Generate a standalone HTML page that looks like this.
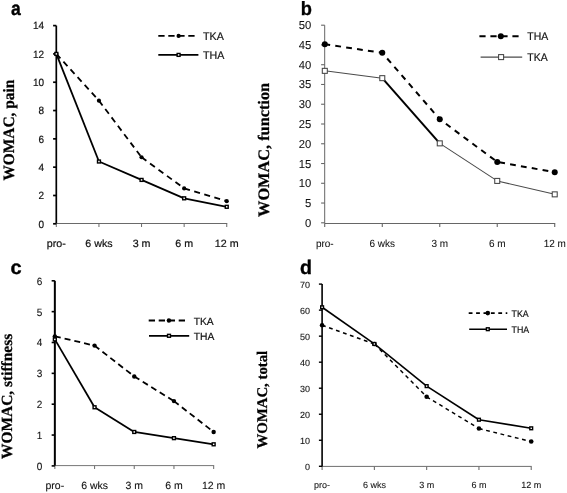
<!DOCTYPE html>
<html><head><meta charset="utf-8"><style>
html,body{margin:0;padding:0;background:#fff;}
body{width:567px;height:493px;overflow:hidden;}
svg{display:block;filter:blur(0.35px);}
</style></head><body>
<svg width="567" height="493" viewBox="0 0 567 493" font-family='"Liberation Sans", sans-serif' text-rendering="geometricPrecision">
<rect width="567" height="493" fill="#fff"/>
<line x1="56.3" y1="223.5" x2="227.25" y2="223.5" stroke="#6a6a6a" stroke-width="1"/>
<line x1="56.30" y1="223.5" x2="56.30" y2="227.0" stroke="#6a6a6a" stroke-width="1"/>
<line x1="98.95" y1="223.5" x2="98.95" y2="227.0" stroke="#6a6a6a" stroke-width="1"/>
<line x1="141.55" y1="223.5" x2="141.55" y2="227.0" stroke="#6a6a6a" stroke-width="1"/>
<line x1="184.15" y1="223.5" x2="184.15" y2="227.0" stroke="#6a6a6a" stroke-width="1"/>
<line x1="226.75" y1="223.5" x2="226.75" y2="227.0" stroke="#6a6a6a" stroke-width="1"/>
<line x1="53.099999999999994" y1="223.80" x2="56.3" y2="223.80" stroke="#000" stroke-width="1.7"/>
<text transform="translate(44,227.60) scale(0.95,1)" text-anchor="end" font-size="10.5" fill="#111" stroke="#111" stroke-width="0.2">0</text>
<line x1="53.099999999999994" y1="195.49" x2="56.3" y2="195.49" stroke="#000" stroke-width="1.7"/>
<text transform="translate(44,199.29) scale(0.95,1)" text-anchor="end" font-size="10.5" fill="#111" stroke="#111" stroke-width="0.2">2</text>
<line x1="53.099999999999994" y1="167.17" x2="56.3" y2="167.17" stroke="#000" stroke-width="1.7"/>
<text transform="translate(44,170.97) scale(0.95,1)" text-anchor="end" font-size="10.5" fill="#111" stroke="#111" stroke-width="0.2">4</text>
<line x1="53.099999999999994" y1="138.86" x2="56.3" y2="138.86" stroke="#000" stroke-width="1.7"/>
<text transform="translate(44,142.66) scale(0.95,1)" text-anchor="end" font-size="10.5" fill="#111" stroke="#111" stroke-width="0.2">6</text>
<line x1="53.099999999999994" y1="110.54" x2="56.3" y2="110.54" stroke="#000" stroke-width="1.7"/>
<text transform="translate(44,114.34) scale(0.95,1)" text-anchor="end" font-size="10.5" fill="#111" stroke="#111" stroke-width="0.2">8</text>
<line x1="53.099999999999994" y1="82.23" x2="56.3" y2="82.23" stroke="#000" stroke-width="1.7"/>
<text transform="translate(44,86.03) scale(0.95,1)" text-anchor="end" font-size="10.5" fill="#111" stroke="#111" stroke-width="0.2">10</text>
<line x1="53.099999999999994" y1="53.91" x2="56.3" y2="53.91" stroke="#000" stroke-width="1.7"/>
<text transform="translate(44,57.71) scale(0.95,1)" text-anchor="end" font-size="10.5" fill="#111" stroke="#111" stroke-width="0.2">12</text>
<line x1="53.099999999999994" y1="25.60" x2="56.3" y2="25.60" stroke="#000" stroke-width="1.7"/>
<text transform="translate(44,29.40) scale(0.95,1)" text-anchor="end" font-size="10.5" fill="#111" stroke="#111" stroke-width="0.2">14</text>
<line x1="56.3" y1="25.6" x2="56.3" y2="223.5" stroke="#000" stroke-width="1.7"/>
<text transform="translate(56.35,246.6) scale(1.02,1)" text-anchor="middle" font-size="10.5" fill="#111" stroke="#111" stroke-width="0.2">pro-</text>
<text transform="translate(98.95,246.6) scale(1.02,1)" text-anchor="middle" font-size="10.5" fill="#111" stroke="#111" stroke-width="0.2">6 wks</text>
<text transform="translate(141.55,246.6) scale(1.02,1)" text-anchor="middle" font-size="10.5" fill="#111" stroke="#111" stroke-width="0.2">3 m</text>
<text transform="translate(184.15,246.6) scale(1.02,1)" text-anchor="middle" font-size="10.5" fill="#111" stroke="#111" stroke-width="0.2">6 m</text>
<text transform="translate(226.75,246.6) scale(1.02,1)" text-anchor="middle" font-size="10.5" fill="#111" stroke="#111" stroke-width="0.2">12 m</text>
<line x1="56.35" y1="53.91" x2="98.95" y2="100.63" stroke="#000" stroke-width="1.8" stroke-dasharray="6,4.5"/>
<line x1="98.95" y1="100.63" x2="141.55" y2="157.26" stroke="#000" stroke-width="1.8" stroke-dasharray="6,4.5"/>
<line x1="141.55" y1="157.26" x2="184.15" y2="188.41" stroke="#000" stroke-width="1.8" stroke-dasharray="6,4.5"/>
<line x1="184.15" y1="188.41" x2="226.75" y2="201.15" stroke="#000" stroke-width="1.8" stroke-dasharray="6,4.5"/>
<line x1="56.35" y1="53.91" x2="98.95" y2="161.51" stroke="#000" stroke-width="1.8"/>
<line x1="98.95" y1="161.51" x2="141.55" y2="179.91" stroke="#000" stroke-width="1.8"/>
<line x1="141.55" y1="179.91" x2="184.15" y2="198.32" stroke="#000" stroke-width="1.8"/>
<line x1="184.15" y1="198.32" x2="226.75" y2="206.81" stroke="#000" stroke-width="1.8"/>
<circle cx="56.35" cy="53.91" r="2.1" fill="#000"/>
<circle cx="98.95" cy="100.63" r="2.1" fill="#000"/>
<circle cx="141.55" cy="157.26" r="2.1" fill="#000"/>
<circle cx="184.15" cy="188.41" r="2.1" fill="#000"/>
<circle cx="226.75" cy="201.15" r="2.1" fill="#000"/>
<rect x="54.90" y="52.46" width="2.9" height="2.9" fill="#fff" stroke="#000" stroke-width="1.4"/>
<rect x="97.50" y="160.06" width="2.9" height="2.9" fill="#fff" stroke="#000" stroke-width="1.4"/>
<rect x="140.10" y="178.46" width="2.9" height="2.9" fill="#fff" stroke="#000" stroke-width="1.4"/>
<rect x="182.70" y="196.87" width="2.9" height="2.9" fill="#fff" stroke="#000" stroke-width="1.4"/>
<rect x="225.30" y="205.36" width="2.9" height="2.9" fill="#fff" stroke="#000" stroke-width="1.4"/>
<line x1="158.3" y1="35.9" x2="196" y2="35.9" stroke="#000" stroke-width="1.8" stroke-dasharray="6.3,3.7"/>
<circle cx="178.60" cy="35.90" r="2.1" fill="#000"/>
<text transform="translate(203.0,40.3) scale(0.97,1)" font-size="11" fill="#111" stroke="#111" stroke-width="0.18">TKA</text>
<line x1="158.3" y1="54.9" x2="198.4" y2="54.9" stroke="#000" stroke-width="1.8"/>
<rect x="177.15" y="53.45" width="2.9" height="2.9" fill="#fff" stroke="#000" stroke-width="1.4"/>
<text transform="translate(203.0,58.9) scale(0.97,1)" font-size="11" fill="#111" stroke="#111" stroke-width="0.18">THA</text>
<text transform="translate(11.1,14.9) scale(0.9,1)" font-size="19.5" font-weight="bold" fill="#000" stroke="#000" stroke-width="0.35">a</text>
<text transform="translate(14.1,180.5) rotate(-90) scale(1,1.03)" x="0" y="0" font-family='"Liberation Serif", serif' font-weight="bold" font-size="15.4" textLength="100.7" lengthAdjust="spacingAndGlyphs" fill="#000" stroke="#000" stroke-width="0.25">WOMAC, pain</text>
<line x1="324.7" y1="223.5" x2="555.22" y2="223.5" stroke="#666" stroke-width="1"/>
<line x1="324.70" y1="223.5" x2="324.70" y2="227.0" stroke="#666" stroke-width="1.1"/>
<line x1="382.28" y1="223.5" x2="382.28" y2="227.0" stroke="#666" stroke-width="1.1"/>
<line x1="439.76" y1="223.5" x2="439.76" y2="227.0" stroke="#666" stroke-width="1.1"/>
<line x1="497.24" y1="223.5" x2="497.24" y2="227.0" stroke="#666" stroke-width="1.1"/>
<line x1="554.72" y1="223.5" x2="554.72" y2="227.0" stroke="#666" stroke-width="1.1"/>
<line x1="321.09999999999997" y1="222.80" x2="324.7" y2="222.80" stroke="#666" stroke-width="1.1"/>
<text transform="translate(311.3,226.80) scale(0.97,1)" text-anchor="end" font-size="11.6" fill="#111" stroke="#111" stroke-width="0.06">0</text>
<line x1="321.09999999999997" y1="203.04" x2="324.7" y2="203.04" stroke="#666" stroke-width="1.1"/>
<text transform="translate(311.3,207.04) scale(0.97,1)" text-anchor="end" font-size="11.6" fill="#111" stroke="#111" stroke-width="0.06">5</text>
<line x1="321.09999999999997" y1="183.28" x2="324.7" y2="183.28" stroke="#666" stroke-width="1.1"/>
<text transform="translate(311.3,187.28) scale(0.97,1)" text-anchor="end" font-size="11.6" fill="#111" stroke="#111" stroke-width="0.06">10</text>
<line x1="321.09999999999997" y1="163.52" x2="324.7" y2="163.52" stroke="#666" stroke-width="1.1"/>
<text transform="translate(311.3,167.52) scale(0.97,1)" text-anchor="end" font-size="11.6" fill="#111" stroke="#111" stroke-width="0.06">15</text>
<line x1="321.09999999999997" y1="143.76" x2="324.7" y2="143.76" stroke="#666" stroke-width="1.1"/>
<text transform="translate(311.3,147.76) scale(0.97,1)" text-anchor="end" font-size="11.6" fill="#111" stroke="#111" stroke-width="0.06">20</text>
<line x1="321.09999999999997" y1="124.00" x2="324.7" y2="124.00" stroke="#666" stroke-width="1.1"/>
<text transform="translate(311.3,128.00) scale(0.97,1)" text-anchor="end" font-size="11.6" fill="#111" stroke="#111" stroke-width="0.06">25</text>
<line x1="321.09999999999997" y1="104.24" x2="324.7" y2="104.24" stroke="#666" stroke-width="1.1"/>
<text transform="translate(311.3,108.24) scale(0.97,1)" text-anchor="end" font-size="11.6" fill="#111" stroke="#111" stroke-width="0.06">30</text>
<line x1="321.09999999999997" y1="84.48" x2="324.7" y2="84.48" stroke="#666" stroke-width="1.1"/>
<text transform="translate(311.3,88.48) scale(0.97,1)" text-anchor="end" font-size="11.6" fill="#111" stroke="#111" stroke-width="0.06">35</text>
<line x1="321.09999999999997" y1="64.72" x2="324.7" y2="64.72" stroke="#666" stroke-width="1.1"/>
<text transform="translate(311.3,68.72) scale(0.97,1)" text-anchor="end" font-size="11.6" fill="#111" stroke="#111" stroke-width="0.06">40</text>
<line x1="321.09999999999997" y1="44.96" x2="324.7" y2="44.96" stroke="#666" stroke-width="1.1"/>
<text transform="translate(311.3,48.96) scale(0.97,1)" text-anchor="end" font-size="11.6" fill="#111" stroke="#111" stroke-width="0.06">45</text>
<line x1="321.09999999999997" y1="25.20" x2="324.7" y2="25.20" stroke="#666" stroke-width="1.1"/>
<text transform="translate(311.3,29.20) scale(0.97,1)" text-anchor="end" font-size="11.6" fill="#111" stroke="#111" stroke-width="0.06">50</text>
<line x1="324.7" y1="25.2" x2="324.7" y2="223.5" stroke="#666" stroke-width="1"/>
<text transform="translate(324.80,246.5) scale(0.96,1)" text-anchor="middle" font-size="10.4" fill="#111" stroke="#111" stroke-width="0.06">pro-</text>
<text transform="translate(382.28,246.5) scale(0.96,1)" text-anchor="middle" font-size="10.4" fill="#111" stroke="#111" stroke-width="0.06">6 wks</text>
<text transform="translate(439.76,246.5) scale(0.96,1)" text-anchor="middle" font-size="10.4" fill="#111" stroke="#111" stroke-width="0.06">3 m</text>
<text transform="translate(497.24,246.5) scale(0.96,1)" text-anchor="middle" font-size="10.4" fill="#111" stroke="#111" stroke-width="0.06">6 m</text>
<text transform="translate(554.72,246.5) scale(0.96,1)" text-anchor="middle" font-size="10.4" fill="#111" stroke="#111" stroke-width="0.06">12 m</text>
<polyline points="324.80,44.17 382.28,52.86 439.76,119.26 497.24,161.94 554.72,172.21" fill="none" stroke="#000" stroke-width="2" stroke-linejoin="round" stroke-dasharray="5.8,5.2" stroke-dashoffset="0.4"/>
<line x1="324.80" y1="70.85" x2="382.28" y2="78.16" stroke="#4a4a4a" stroke-width="1.05"/>
<line x1="382.28" y1="78.16" x2="439.76" y2="143.36" stroke="#000" stroke-width="2"/>
<line x1="439.76" y1="143.36" x2="497.24" y2="180.91" stroke="#4a4a4a" stroke-width="1.05"/>
<line x1="497.24" y1="180.91" x2="554.72" y2="194.35" stroke="#4a4a4a" stroke-width="1.05"/>
<circle cx="324.80" cy="44.17" r="3.0" fill="#000"/>
<circle cx="382.28" cy="52.86" r="3.0" fill="#000"/>
<circle cx="439.76" cy="119.26" r="3.0" fill="#000"/>
<circle cx="497.24" cy="161.94" r="3.0" fill="#000"/>
<circle cx="554.72" cy="172.21" r="3.0" fill="#000"/>
<rect x="322.30" y="68.35" width="5" height="5" fill="#fff" stroke="#444" stroke-width="1.05"/>
<rect x="379.78" y="75.66" width="5" height="5" fill="#fff" stroke="#444" stroke-width="1.05"/>
<rect x="437.26" y="140.86" width="5" height="5" fill="#fff" stroke="#444" stroke-width="1.05"/>
<rect x="494.74" y="178.41" width="5" height="5" fill="#fff" stroke="#444" stroke-width="1.05"/>
<rect x="552.22" y="191.85" width="5" height="5" fill="#fff" stroke="#444" stroke-width="1.05"/>
<line x1="479.4" y1="36.3" x2="519.6" y2="36.3" stroke="#000" stroke-width="2" stroke-dasharray="6.2,4.8"/>
<circle cx="500.80" cy="36.30" r="3.0" fill="#000"/>
<text transform="translate(527.3,40.2) scale(0.95,1)" font-size="11" fill="#111" stroke="#111" stroke-width="0.18">THA</text>
<line x1="480.6" y1="57.1" x2="522.2" y2="57.1" stroke="#4a4a4a" stroke-width="1.05"/>
<rect x="498.60" y="54.60" width="5" height="5" fill="#fff" stroke="#444" stroke-width="1.05"/>
<text transform="translate(527.3,61.2) scale(0.95,1)" font-size="11" fill="#111" stroke="#111" stroke-width="0.18">TKA</text>
<text transform="translate(300.7,15) scale(0.95,1)" font-size="19.2" font-weight="bold" fill="#000" stroke="#000" stroke-width="0.35">b</text>
<text transform="translate(269.4,216.9) rotate(-90) scale(1,1.0)" x="0" y="0" font-family='"Liberation Serif", serif' font-weight="bold" font-size="16" textLength="134.0" lengthAdjust="spacingAndGlyphs" fill="#000" stroke="#000" stroke-width="0.25">WOMAC, function</text>
<line x1="54.85" y1="465.6" x2="214.15" y2="465.6" stroke="#777" stroke-width="1"/>
<line x1="54.85" y1="465.6" x2="54.85" y2="469.1" stroke="#777" stroke-width="1.1"/>
<line x1="94.55" y1="465.6" x2="94.55" y2="469.1" stroke="#777" stroke-width="1.1"/>
<line x1="134.25" y1="465.6" x2="134.25" y2="469.1" stroke="#777" stroke-width="1.1"/>
<line x1="173.95" y1="465.6" x2="173.95" y2="469.1" stroke="#777" stroke-width="1.1"/>
<line x1="213.65" y1="465.6" x2="213.65" y2="469.1" stroke="#777" stroke-width="1.1"/>
<line x1="51.65" y1="465.90" x2="54.85" y2="465.90" stroke="#000" stroke-width="1.6"/>
<text transform="translate(42.3,469.80) scale(0.95,1)" text-anchor="end" font-size="10.5" fill="#111" stroke="#111" stroke-width="0.1">0</text>
<line x1="51.65" y1="435.05" x2="54.85" y2="435.05" stroke="#000" stroke-width="1.6"/>
<text transform="translate(42.3,438.95) scale(0.95,1)" text-anchor="end" font-size="10.5" fill="#111" stroke="#111" stroke-width="0.1">1</text>
<line x1="51.65" y1="404.20" x2="54.85" y2="404.20" stroke="#000" stroke-width="1.6"/>
<text transform="translate(42.3,408.10) scale(0.95,1)" text-anchor="end" font-size="10.5" fill="#111" stroke="#111" stroke-width="0.1">2</text>
<line x1="51.65" y1="373.35" x2="54.85" y2="373.35" stroke="#000" stroke-width="1.6"/>
<text transform="translate(42.3,377.25) scale(0.95,1)" text-anchor="end" font-size="10.5" fill="#111" stroke="#111" stroke-width="0.1">3</text>
<line x1="51.65" y1="342.50" x2="54.85" y2="342.50" stroke="#000" stroke-width="1.6"/>
<text transform="translate(42.3,346.40) scale(0.95,1)" text-anchor="end" font-size="10.5" fill="#111" stroke="#111" stroke-width="0.1">4</text>
<line x1="51.65" y1="311.65" x2="54.85" y2="311.65" stroke="#000" stroke-width="1.6"/>
<text transform="translate(42.3,315.55) scale(0.95,1)" text-anchor="end" font-size="10.5" fill="#111" stroke="#111" stroke-width="0.1">5</text>
<line x1="51.65" y1="280.80" x2="54.85" y2="280.80" stroke="#000" stroke-width="1.6"/>
<text transform="translate(42.3,284.70) scale(0.95,1)" text-anchor="end" font-size="10.5" fill="#111" stroke="#111" stroke-width="0.1">6</text>
<line x1="54.85" y1="280.8" x2="54.85" y2="465.6" stroke="#000" stroke-width="2"/>
<text transform="translate(54.85,488.8) scale(1.0,1)" text-anchor="middle" font-size="10.5" fill="#111" stroke="#111" stroke-width="0.1">pro-</text>
<text transform="translate(94.55,488.8) scale(1.0,1)" text-anchor="middle" font-size="10.5" fill="#111" stroke="#111" stroke-width="0.1">6 wks</text>
<text transform="translate(134.25,488.8) scale(1.0,1)" text-anchor="middle" font-size="10.5" fill="#111" stroke="#111" stroke-width="0.1">3 m</text>
<text transform="translate(173.95,488.8) scale(1.0,1)" text-anchor="middle" font-size="10.5" fill="#111" stroke="#111" stroke-width="0.1">6 m</text>
<text transform="translate(213.65,488.8) scale(1.0,1)" text-anchor="middle" font-size="10.5" fill="#111" stroke="#111" stroke-width="0.1">12 m</text>
<line x1="54.85" y1="336.33" x2="94.55" y2="345.59" stroke="#000" stroke-width="1.8" stroke-dasharray="6,4"/>
<line x1="94.55" y1="345.59" x2="134.25" y2="376.44" stroke="#000" stroke-width="1.8" stroke-dasharray="6,4"/>
<line x1="134.25" y1="376.44" x2="173.95" y2="401.12" stroke="#000" stroke-width="1.8" stroke-dasharray="6,4"/>
<line x1="173.95" y1="401.12" x2="213.65" y2="431.96" stroke="#000" stroke-width="1.8" stroke-dasharray="6,4"/>
<line x1="54.85" y1="339.42" x2="94.55" y2="407.28" stroke="#000" stroke-width="1.75"/>
<line x1="94.55" y1="407.28" x2="134.25" y2="431.96" stroke="#000" stroke-width="1.75"/>
<line x1="134.25" y1="431.96" x2="173.95" y2="438.13" stroke="#000" stroke-width="1.75"/>
<line x1="173.95" y1="438.13" x2="213.65" y2="444.31" stroke="#000" stroke-width="1.75"/>
<circle cx="54.85" cy="336.33" r="2.2" fill="#000"/>
<circle cx="94.55" cy="345.59" r="2.2" fill="#000"/>
<circle cx="134.25" cy="376.44" r="2.2" fill="#000"/>
<circle cx="173.95" cy="401.12" r="2.2" fill="#000"/>
<circle cx="213.65" cy="431.96" r="2.2" fill="#000"/>
<rect x="53.40" y="337.97" width="2.9" height="2.9" fill="#fff" stroke="#000" stroke-width="1.4"/>
<rect x="93.10" y="405.83" width="2.9" height="2.9" fill="#fff" stroke="#000" stroke-width="1.4"/>
<rect x="132.80" y="430.51" width="2.9" height="2.9" fill="#fff" stroke="#000" stroke-width="1.4"/>
<rect x="172.50" y="436.69" width="2.9" height="2.9" fill="#fff" stroke="#000" stroke-width="1.4"/>
<rect x="212.20" y="442.86" width="2.9" height="2.9" fill="#fff" stroke="#000" stroke-width="1.4"/>
<line x1="148.7" y1="320.5" x2="186.5" y2="320.5" stroke="#000" stroke-width="1.8" stroke-dasharray="6.3,3.7"/>
<circle cx="168.90" cy="320.50" r="2.2" fill="#000"/>
<text transform="translate(193.7,325) scale(0.98,1)" font-size="10.5" fill="#111" stroke="#111" stroke-width="0.18">TKA</text>
<line x1="149" y1="335.8" x2="189.2" y2="335.8" stroke="#000" stroke-width="1.75"/>
<rect x="167.55" y="334.35" width="2.9" height="2.9" fill="#fff" stroke="#000" stroke-width="1.4"/>
<text transform="translate(193.7,339.7) scale(0.98,1)" font-size="10.5" fill="#111" stroke="#111" stroke-width="0.18">THA</text>
<text transform="translate(10.5,273.8) scale(1.03,1)" font-size="19.5" font-weight="bold" fill="#000" stroke="#000" stroke-width="0.35">c</text>
<text transform="translate(11.8,459.0) rotate(-90) scale(1,1.0)" x="0" y="0" font-family='"Liberation Serif", serif' font-weight="bold" font-size="15.5" textLength="125.19999999999999" lengthAdjust="spacingAndGlyphs" fill="#000" stroke="#000" stroke-width="0.25">WOMAC, stiffness</text>
<line x1="322.1" y1="466.4" x2="531.72" y2="466.4" stroke="#6e6e6e" stroke-width="1"/>
<line x1="322.10" y1="466.4" x2="322.10" y2="469.9" stroke="#6e6e6e" stroke-width="1.1"/>
<line x1="374.38" y1="466.4" x2="374.38" y2="469.9" stroke="#6e6e6e" stroke-width="1.1"/>
<line x1="426.66" y1="466.4" x2="426.66" y2="469.9" stroke="#6e6e6e" stroke-width="1.1"/>
<line x1="478.94" y1="466.4" x2="478.94" y2="469.9" stroke="#6e6e6e" stroke-width="1.1"/>
<line x1="531.22" y1="466.4" x2="531.22" y2="469.9" stroke="#6e6e6e" stroke-width="1.1"/>
<line x1="318.90000000000003" y1="466.30" x2="322.1" y2="466.30" stroke="#000" stroke-width="1.4"/>
<text transform="translate(310,470.30) scale(1,1)" text-anchor="end" font-size="9" fill="#151515" stroke="#151515" stroke-width="0.1">0</text>
<line x1="318.90000000000003" y1="440.27" x2="322.1" y2="440.27" stroke="#000" stroke-width="1.4"/>
<text transform="translate(310,444.27) scale(1,1)" text-anchor="end" font-size="9" fill="#151515" stroke="#151515" stroke-width="0.1">10</text>
<line x1="318.90000000000003" y1="414.24" x2="322.1" y2="414.24" stroke="#000" stroke-width="1.4"/>
<text transform="translate(310,418.24) scale(1,1)" text-anchor="end" font-size="9" fill="#151515" stroke="#151515" stroke-width="0.1">20</text>
<line x1="318.90000000000003" y1="388.21" x2="322.1" y2="388.21" stroke="#000" stroke-width="1.4"/>
<text transform="translate(310,392.21) scale(1,1)" text-anchor="end" font-size="9" fill="#151515" stroke="#151515" stroke-width="0.1">30</text>
<line x1="318.90000000000003" y1="362.19" x2="322.1" y2="362.19" stroke="#000" stroke-width="1.4"/>
<text transform="translate(310,366.19) scale(1,1)" text-anchor="end" font-size="9" fill="#151515" stroke="#151515" stroke-width="0.1">40</text>
<line x1="318.90000000000003" y1="336.16" x2="322.1" y2="336.16" stroke="#000" stroke-width="1.4"/>
<text transform="translate(310,340.16) scale(1,1)" text-anchor="end" font-size="9" fill="#151515" stroke="#151515" stroke-width="0.1">50</text>
<line x1="318.90000000000003" y1="310.13" x2="322.1" y2="310.13" stroke="#000" stroke-width="1.4"/>
<text transform="translate(310,314.13) scale(1,1)" text-anchor="end" font-size="9" fill="#151515" stroke="#151515" stroke-width="0.1">60</text>
<line x1="318.90000000000003" y1="284.10" x2="322.1" y2="284.10" stroke="#000" stroke-width="1.4"/>
<text transform="translate(310,288.10) scale(1,1)" text-anchor="end" font-size="9" fill="#151515" stroke="#151515" stroke-width="0.1">70</text>
<line x1="322.1" y1="284.1" x2="322.1" y2="466.4" stroke="#000" stroke-width="1.6"/>
<text transform="translate(322.10,487.5) scale(1,1)" text-anchor="middle" font-size="9" fill="#151515" stroke="#151515" stroke-width="0.1">pro-</text>
<text transform="translate(374.38,487.5) scale(1,1)" text-anchor="middle" font-size="9" fill="#151515" stroke="#151515" stroke-width="0.1">6 wks</text>
<text transform="translate(426.66,487.5) scale(1,1)" text-anchor="middle" font-size="9" fill="#151515" stroke="#151515" stroke-width="0.1">3 m</text>
<text transform="translate(478.94,487.5) scale(1,1)" text-anchor="middle" font-size="9" fill="#151515" stroke="#151515" stroke-width="0.1">6 m</text>
<text transform="translate(531.22,487.5) scale(1,1)" text-anchor="middle" font-size="9" fill="#151515" stroke="#151515" stroke-width="0.1">12 m</text>
<line x1="322.10" y1="325.23" x2="374.38" y2="343.97" stroke="#000" stroke-width="1.45" stroke-dasharray="3.8,3.6"/>
<line x1="374.38" y1="343.97" x2="426.66" y2="396.80" stroke="#000" stroke-width="1.45" stroke-dasharray="3.8,3.6"/>
<line x1="426.66" y1="396.80" x2="478.94" y2="428.56" stroke="#000" stroke-width="1.45" stroke-dasharray="3.8,3.6"/>
<line x1="478.94" y1="428.56" x2="531.22" y2="441.57" stroke="#000" stroke-width="1.45" stroke-dasharray="3.8,3.6"/>
<line x1="322.10" y1="307.27" x2="374.38" y2="343.97" stroke="#000" stroke-width="1.6"/>
<line x1="374.38" y1="343.97" x2="426.66" y2="386.13" stroke="#000" stroke-width="1.6"/>
<line x1="426.66" y1="386.13" x2="478.94" y2="419.71" stroke="#000" stroke-width="1.6"/>
<line x1="478.94" y1="419.71" x2="531.22" y2="428.30" stroke="#000" stroke-width="1.6"/>
<circle cx="322.10" cy="325.23" r="2.3" fill="#000"/>
<circle cx="374.38" cy="343.97" r="2.3" fill="#000"/>
<circle cx="426.66" cy="396.80" r="2.3" fill="#000"/>
<circle cx="478.94" cy="428.56" r="2.3" fill="#000"/>
<circle cx="531.22" cy="441.57" r="2.3" fill="#000"/>
<rect x="320.70" y="305.87" width="2.8" height="2.8" fill="#fff" stroke="#000" stroke-width="1.4"/>
<rect x="372.98" y="342.57" width="2.8" height="2.8" fill="#fff" stroke="#000" stroke-width="1.4"/>
<rect x="425.26" y="384.73" width="2.8" height="2.8" fill="#fff" stroke="#000" stroke-width="1.4"/>
<rect x="477.54" y="418.31" width="2.8" height="2.8" fill="#fff" stroke="#000" stroke-width="1.4"/>
<rect x="529.82" y="426.90" width="2.8" height="2.8" fill="#fff" stroke="#000" stroke-width="1.4"/>
<line x1="468.7" y1="313.1" x2="507.3" y2="313.1" stroke="#000" stroke-width="1.7" stroke-dasharray="3.8,3.6"/>
<circle cx="487.80" cy="313.10" r="2.3" fill="#000"/>
<text transform="translate(511.6,316.8) scale(0.94,1)" font-size="9.4" fill="#111" stroke="#111" stroke-width="0.18">TKA</text>
<line x1="469.2" y1="329.2" x2="507" y2="329.2" stroke="#000" stroke-width="1.6"/>
<rect x="486.40" y="327.80" width="2.8" height="2.8" fill="#fff" stroke="#000" stroke-width="1.4"/>
<text transform="translate(511.6,332.7) scale(0.94,1)" font-size="9.4" fill="#111" stroke="#111" stroke-width="0.18">THA</text>
<text transform="translate(300.1,273.6) scale(1.0,1)" font-size="19.6" font-weight="bold" fill="#000" stroke="#000" stroke-width="0.35">d</text>
<text transform="translate(267.2,448.5) rotate(-90) scale(1,1.0)" x="0" y="0" font-family='"Liberation Serif", serif' font-weight="bold" font-size="14.8" textLength="97.69999999999999" lengthAdjust="spacingAndGlyphs" fill="#000" stroke="#000" stroke-width="0.25">WOMAC, total</text>
</svg>
</body></html>
